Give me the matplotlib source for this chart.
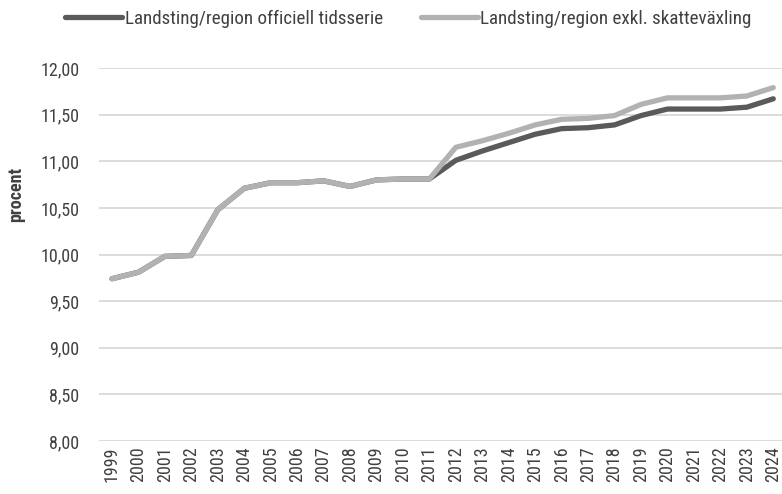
import numpy as np
import matplotlib
matplotlib.use("Agg")
import matplotlib.pyplot as plt
from matplotlib import font_manager
from matplotlib.ticker import FuncFormatter, MultipleLocator

# smalaste tillgängliga typsnittet
installed = {f.name for f in font_manager.fontManager.ttflist}
candidates = ['Liberation Sans Narrow', 'DejaVu Sans Condensed', 'Roboto Condensed',
              'Open Sans Condensed', 'Roboto']
family = next((c for c in candidates if c in installed), 'DejaVu Sans')
plt.rcParams['font.family'] = [family, 'DejaVu Sans']

# Skattesats per år (procent)
years = [str(y) for y in range(1999, 2025)]
officiell = [9.74, 9.81, 9.98, 9.99, 10.48, 10.71, 10.77, 10.77, 10.79, 10.73,
             10.80, 10.81, 10.81, 11.01, 11.11, 11.20, 11.29, 11.35, 11.36, 11.39,
             11.49, 11.56, 11.56, 11.56, 11.58, 11.67]
exkl_skattevaxling = [9.74, 9.81, 9.98, 9.99, 10.48, 10.71, 10.77, 10.77, 10.79, 10.73,
                      10.80, 10.81, 10.81, 11.15, 11.22, 11.30, 11.39, 11.45, 11.46, 11.49,
                      11.61, 11.68, 11.68, 11.68, 11.70, 11.79]

dark = '#5a5a5a'
light = '#b2b2b2'
text_col = '#404040'
fs = 13 if family != 'Roboto' else 12

fig = plt.figure(figsize=(7.82, 4.94), dpi=100)
ax = fig.add_axes([0.1266, 0.1073, 0.8734, 0.755])

x = np.arange(len(years))
ax.plot(x, officiell, color=dark, lw=3.8, solid_capstyle='round',
        solid_joinstyle='round', label='Landsting/region officiell tidsserie', zorder=2)
ax.plot(x, exkl_skattevaxling, color=light, lw=3.8, solid_capstyle='round',
        solid_joinstyle='round', label='Landsting/region exkl. skatteväxling', zorder=3)

ax.set_ylim(8, 12)
ax.set_xlim(-0.49, 25.33)
ax.yaxis.set_major_locator(MultipleLocator(0.5))
ax.yaxis.set_major_formatter(FuncFormatter(lambda v, p: f"{v:.2f}".replace('.', ',')))
ax.set_xticks(x)
ax.set_xticklabels(years, rotation=90)
ax.tick_params(axis='both', length=0, labelsize=fs, labelcolor=text_col)
ax.tick_params(axis='y', pad=14)
ax.tick_params(axis='x', pad=4)
ax.grid(axis='y', color='#d9d9d9', lw=1.3)
ax.set_axisbelow(True)
for s in ax.spines.values():
    s.set_visible(False)

ax.set_ylabel('procent', fontsize=fs, fontweight='bold', color=text_col)
ax.yaxis.set_label_coords(-0.108, 0.662)

fig.legend(loc='center left', bbox_to_anchor=(65 / 782, 1 - 19 / 494), ncol=2,
           frameon=False, borderpad=0, borderaxespad=0, fontsize=fs * 1.05,
           handlelength=3.0, handletextpad=0.15, columnspacing=2.0,
           labelcolor=text_col)

fig.savefig('out.png', dpi=100)
